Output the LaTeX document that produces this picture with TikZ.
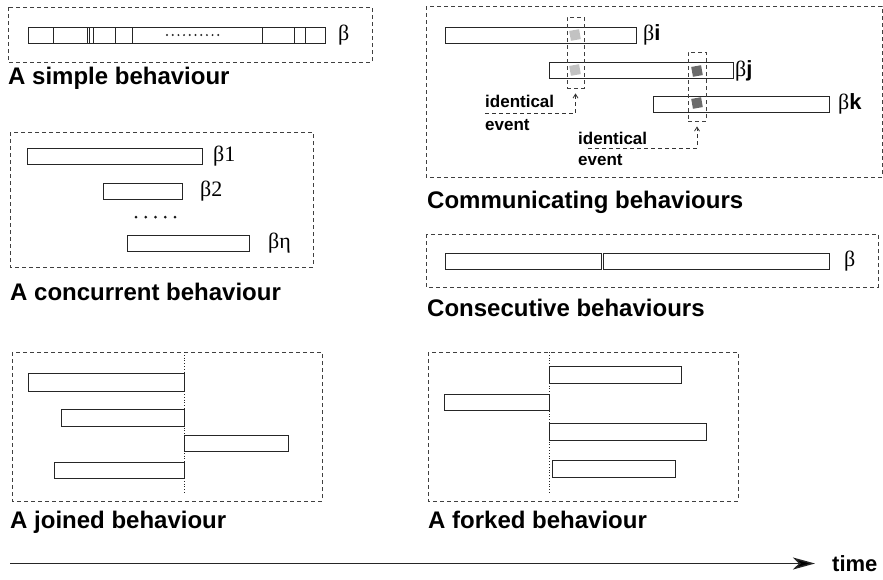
\documentclass[tikz,border=0pt]{standalone}
\usepackage{fontspec}
\setmainfont{Liberation Serif}
\newfontfamily\labfont{Liberation Sans}
\usetikzlibrary{positioning,arrows.meta}

\tikzset{
	bar/.style={draw=black!85, line width=1pt, inner sep=0, outer sep=0, minimum height=16, fill=white},
	frame/.style={draw=black!75, line width=0.8pt, dash pattern=on 4pt off 3pt},
	title/.style={font=\labfont\bfseries\fontsize{24}{28}\selectfont, anchor=base west, inner sep=0},
	small/.style={font=\labfont\bfseries\fontsize{17}{20}\selectfont, anchor=base west, inner sep=0},
	blabel/.style={font=\fontsize{22}{26}\selectfont, inner sep=0},
	evline/.style={draw=black!80, line width=0.8pt, dash pattern=on 4pt off 3pt, -{Straight Barb[length=4pt,width=5pt]}, shorten >=5pt},
	evsq/.style={minimum size=10, inner sep=0, rotate=10},
}

\begin{document}
\begin{tikzpicture}[x=1pt, y=-1pt]
	\useasboundingbox (0,0) rectangle (883,579);

	\draw[frame] (8,7)     rectangle (372,62);
	\draw[frame] (426,6)   rectangle (882,177);
	\draw[frame] (10,132)  rectangle (313,267);
	\draw[frame] (426,234) rectangle (878,287);
	\draw[frame] (12,352)  rectangle (322,501);
	\draw[frame] (428,352) rectangle (738,501);

	\node[bar, minimum width=297] (s) at (176.5,35) {};
	\foreach \x in {53,87,89,93,115,132,262,294,305}
		\draw[black!85, line width=0.8pt] (\x,27) -- (\x,43);
	\foreach \x in {167,172.7,...,219}
		\fill[black!85] (\x,35) circle (1.1);
	\node[blabel, right=13 of s] (sb) {β};
	\node[title] (st) at (8,84) {A simple behaviour};

	\node[bar, minimum width=175] (c1) at (114.5,156) {};
	\node[bar, minimum width=79]  (c2) at (142.5,191) {};
	\node[bar, minimum width=122] (cn) at (188,243)   {};
	\foreach \x in {136,145.75,...,176}
		\fill[black!90] (\x,217) circle (1.5);
	\node[blabel, right=11 of c1] (c1b) {β1};
	\node[blabel, right=18 of c2] (c2b) {β2};
	\node[blabel, right=19 of cn] (cnb) {βη};
	\node[title] (ct) at (10,300) {A concurrent behaviour};

	\node[bar, minimum width=191] (mi) at (540.5,35)  {};
	\node[bar, minimum width=184] (mj) at (641,70.5)  {};
	\node[bar, minimum width=176] (mk) at (741,104)   {};
	\node[frame, minimum width=17, minimum height=71, inner sep=0] (eb1) at (575.5,52.5) {};
	\node[frame, minimum width=18, minimum height=69, inner sep=0] (eb2) at (697,86.5)  {};
	\node[evsq, fill=black!24] (q1) at (575,35)  {};
	\node[evsq, fill=black!24] (q2) at (575,70)  {};
	\node[evsq, fill=black!58] (q3) at (697,71)  {};
	\node[evsq, fill=black!58] (q4) at (697,103) {};
	\node[blabel, right=7 of mi] (mib) {β{\labfont\bfseries i}};
	\node[blabel, right=2 of mj] (mjb) {β{\labfont\bfseries j}};
	\node[blabel, right=9 of mk] (mkb) {β{\labfont\bfseries k}};
	\node[small] (id1) at (485,107) {identical};
	\node[small] (ev1) at (485,130) {event};
	\node[small] (id2) at (578,144) {identical};
	\node[small] (ev2) at (578,165) {event};
	\coordinate (e1) at (485,113);
	\coordinate (e2) at (588,148);
	\draw[evline] (e1) -| (eb1.south);
	\draw[evline] (e2) -| (eb2.south);
	\node[title] (mt) at (427,208) {Communicating behaviours};

	\node[bar, minimum width=156] (k1) at (523,261) {};
	\node[bar, minimum width=226] (k2) at (716,261) {};
	\node[blabel, right=15 of k2] (kb) {β};
	\node[title] (kt) at (427,316) {Consecutive behaviours};

	\draw[black!85, line width=0.8pt, dotted] (184,352) -- (184,493);
	\node[bar, minimum width=156, minimum height=18] (j1) at (106,382)    {};
	\node[bar, minimum width=123, minimum height=17] (j2) at (122.5,417.5) {};
	\node[bar, minimum width=104] (j3) at (236,443)   {};
	\node[bar, minimum width=130] (j4) at (119,470)   {};
	\node[title] (jt) at (10,528) {A joined behaviour};

	\draw[black!85, line width=0.8pt, dotted] (549,352) -- (549,493);
	\node[bar, minimum width=132, minimum height=17] (f1) at (615,374.5)   {};
	\node[bar, minimum width=105] (f2) at (496.5,402) {};
	\node[bar, minimum width=157, minimum height=17] (f3) at (627.5,431.5) {};
	\node[bar, minimum width=123, minimum height=17] (f4) at (613.5,468.5) {};
	\node[title] (ft) at (428,528) {A forked behaviour};

	\coordinate (t0) at (10,563.5);
	\node[font=\labfont\bfseries\fontsize{22}{26}\selectfont, anchor=west, inner sep=0] (time) at (832,563.5) {time};
	\path[draw=black!85, line width=1.4pt, -{Stealth[length=22pt,width=12pt,inset=6pt]}, shorten >=17pt] (t0) edge (time);
\end{tikzpicture}
\end{document}
